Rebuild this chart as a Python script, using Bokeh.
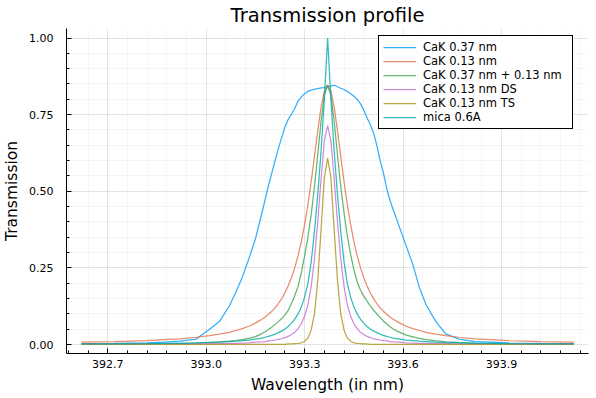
from bokeh.plotting import figure
from bokeh.models import (FixedTicker, NumeralTickFormatter, Legend, LegendItem, Range1d)
from bokeh.embed import file_html
from bokeh.resources import INLINE

# ---------------- data ----------------
wavelength = [392.62, 392.72, 392.82, 392.87, 392.92, 392.97, 393.01, 393.04, 393.07, 393.09,
              393.11, 393.13, 393.15, 393.17, 393.18, 393.19, 393.20, 393.21, 393.22, 393.23,
              393.24, 393.25, 393.26, 393.27, 393.28, 393.29, 393.30, 393.31, 393.32, 393.33,
              393.34, 393.35, 393.36,
              393.37,
              393.38, 393.39, 393.40, 393.41, 393.42, 393.43, 393.44, 393.45, 393.46, 393.47,
              393.48, 393.49, 393.50, 393.51, 393.52, 393.53, 393.54, 393.55, 393.56, 393.57,
              393.59, 393.61, 393.63, 393.65, 393.67, 393.70, 393.73, 393.77, 393.82, 393.87,
              393.92, 394.02, 394.12]

cak_037 = [0.003, 0.004, 0.006, 0.008, 0.011, 0.018, 0.050, 0.075, 0.125, 0.170,
           0.220, 0.280, 0.345, 0.430, 0.475, 0.520, 0.560, 0.600, 0.640, 0.675,
           0.710, 0.735, 0.752, 0.770, 0.795, 0.808, 0.818, 0.826, 0.830, 0.833,
           0.835, 0.837, 0.838,
           0.842,
           0.843, 0.846, 0.841, 0.836, 0.832, 0.826, 0.818, 0.810, 0.800, 0.786,
           0.765, 0.740, 0.718, 0.690, 0.650, 0.600, 0.560, 0.510, 0.470, 0.440,
           0.380, 0.320, 0.260, 0.185, 0.130, 0.075, 0.035, 0.018, 0.010, 0.008,
           0.006, 0.004, 0.003]

cak_013 = [0.008, 0.010, 0.013, 0.016, 0.019, 0.024, 0.029, 0.034, 0.040, 0.046,
           0.052, 0.060, 0.070, 0.083, 0.090, 0.099, 0.109, 0.120, 0.134, 0.150,
           0.169, 0.192, 0.219, 0.251, 0.290, 0.337, 0.392, 0.457, 0.532, 0.614,
           0.698, 0.774, 0.827,
           0.847,
           0.827, 0.774, 0.698, 0.614, 0.532, 0.457, 0.392, 0.337, 0.290, 0.251,
           0.219, 0.192, 0.169, 0.150, 0.134, 0.120, 0.109, 0.099, 0.090, 0.083,
           0.070, 0.060, 0.052, 0.046, 0.040, 0.034, 0.029, 0.024, 0.019, 0.016,
           0.013, 0.010, 0.008]

cak_037_013 = [0.002, 0.002, 0.003, 0.003, 0.004, 0.005, 0.007, 0.009, 0.011, 0.013,
               0.016, 0.020, 0.026, 0.036, 0.042, 0.049, 0.057, 0.066, 0.075, 0.085,
               0.097, 0.112, 0.135, 0.160, 0.190, 0.235, 0.290, 0.350, 0.425, 0.515,
               0.620, 0.728, 0.813,
               0.845,
               0.813, 0.728, 0.620, 0.515, 0.430, 0.355, 0.295, 0.245, 0.205, 0.178,
               0.158, 0.142, 0.126, 0.112, 0.100, 0.089, 0.077, 0.067, 0.058, 0.051,
               0.040, 0.031, 0.025, 0.020, 0.016, 0.012, 0.009, 0.007, 0.005, 0.004,
               0.003, 0.002, 0.002]

cak_013_ds = [0.002, 0.002, 0.002, 0.002, 0.002, 0.002, 0.003, 0.003, 0.004, 0.004,
              0.005, 0.006, 0.008, 0.009, 0.010, 0.012, 0.013, 0.015, 0.017, 0.019,
              0.023, 0.027, 0.033, 0.040, 0.052, 0.068, 0.093, 0.130, 0.190, 0.280,
              0.400, 0.540, 0.665,
              0.714,
              0.665, 0.540, 0.400, 0.280, 0.190, 0.130, 0.093, 0.068, 0.052, 0.040,
              0.033, 0.027, 0.023, 0.019, 0.017, 0.015, 0.013, 0.012, 0.010, 0.009,
              0.008, 0.006, 0.005, 0.004, 0.004, 0.003, 0.003, 0.002, 0.002, 0.002,
              0.002, 0.002, 0.002]

cak_013_ts = [0.001, 0.001, 0.001, 0.001, 0.001, 0.001, 0.001, 0.001, 0.001, 0.001,
              0.001, 0.001, 0.001, 0.001, 0.001, 0.001, 0.001, 0.001, 0.001, 0.001,
              0.001, 0.002, 0.002, 0.003, 0.004, 0.006, 0.011, 0.022, 0.048, 0.100,
              0.210, 0.375, 0.545,
              0.608,
              0.545, 0.375, 0.210, 0.100, 0.048, 0.022, 0.011, 0.006, 0.004, 0.003,
              0.002, 0.002, 0.001, 0.001, 0.001, 0.001, 0.001, 0.001, 0.001, 0.001,
              0.001, 0.001, 0.001, 0.001, 0.001, 0.001, 0.001, 0.001, 0.001, 0.001,
              0.001, 0.001, 0.001]

mica_06 = [0.002, 0.002, 0.003, 0.004, 0.004, 0.006, 0.007, 0.008, 0.010, 0.011,
           0.013, 0.015, 0.018, 0.021, 0.024, 0.027, 0.030, 0.034, 0.039, 0.044,
           0.051, 0.059, 0.070, 0.083, 0.100, 0.123, 0.155, 0.200, 0.270, 0.370,
           0.490, 0.630, 0.800,
           1.000,
           0.800, 0.630, 0.490, 0.370, 0.270, 0.200, 0.155, 0.123, 0.100, 0.083,
           0.070, 0.059, 0.051, 0.044, 0.039, 0.034, 0.030, 0.027, 0.024, 0.021,
           0.018, 0.015, 0.013, 0.011, 0.010, 0.008, 0.007, 0.006, 0.004, 0.004,
           0.003, 0.002, 0.002]

series_names = ["CaK 0.37 nm", "CaK 0.13 nm", "CaK 0.37 nm + 0.13 nm",
                "CaK 0.13 nm DS", "CaK 0.13 nm TS", "mica 0.6A"]
series_values = [cak_037, cak_013, cak_037_013, cak_013_ds, cak_013_ts, mica_06]
series_colors = ["#009afa", "#e26f46", "#3da44d", "#c271d2", "#ac8e18", "#00a9ad"]

x_ticks = [392.7, 393.0, 393.3, 393.6, 393.9]
y_ticks = [0.0, 0.25, 0.5, 0.75, 1.0]

# minor tick positions (5 sub-intervals per major interval)
x_minor = [round(392.4 + 0.06 * i, 3) for i in range(35)]
y_minor = [round(-0.25 + 0.05 * i, 3) for i in range(30)]

FONT = "DejaVu Sans"

p = figure(width=596, height=398,
           x_range=Range1d(392.5743, 394.165), y_range=Range1d(-0.029, 1.031),
           output_backend="svg", toolbar_location=None,
           min_border_left=62, min_border_right=8, min_border_top=28, min_border_bottom=45,
           title="Transmission profile")

p.title.align = "center"
p.title.vertical_align = "top"
p.title.text_font = FONT
p.title.text_font_size = "19.5px"
p.title.text_font_style = "normal"
p.title.text_color = "black"
p.title.text_line_height = 0.8
p.title.standoff = 0

p.outline_line_color = None
p.background_fill_color = "white"
p.border_fill_color = "white"

for ax in (p.xaxis[0], p.yaxis[0]):
    ax.axis_line_color = "black"
    ax.axis_line_width = 1
    ax.major_tick_in = 5
    ax.major_tick_out = 0
    ax.minor_tick_in = 3
    ax.minor_tick_out = 0
    ax.major_tick_line_color = "black"
    ax.minor_tick_line_color = "black"
    ax.major_label_text_font = FONT
    ax.major_label_text_font_size = "11px"
    ax.major_label_text_color = "black"
    ax.axis_label_text_font = FONT
    ax.axis_label_text_font_size = "15.5px"
    ax.axis_label_text_font_style = "normal"
    ax.axis_label_text_color = "black"

p.xaxis.ticker = FixedTicker(ticks=x_ticks, minor_ticks=x_minor)
p.yaxis.ticker = FixedTicker(ticks=y_ticks, minor_ticks=y_minor)
p.xaxis.formatter = NumeralTickFormatter(format="0.0")
p.yaxis.formatter = NumeralTickFormatter(format="0.00")
p.xaxis.axis_label = "Wavelength (in nm)"
p.yaxis.axis_label = "Transmission"
p.xaxis.major_label_standoff = 6
p.xaxis.axis_label_standoff = 5
p.yaxis.major_label_standoff = 13
p.yaxis.axis_label_standoff = 5

for g in (p.xgrid[0], p.ygrid[0]):
    g.grid_line_color = "black"
    g.grid_line_alpha = 0.07
    g.minor_grid_line_color = "black"
    g.minor_grid_line_alpha = 0.035

items = []
for name, vals, col in zip(series_names, series_values, series_colors):
    r = p.line(wavelength, vals, line_color=col, line_width=1.25, line_alpha=0.8)
    items.append(LegendItem(label=name, renderers=[r]))

legend = Legend(items=items, location=(312, 224))
legend.border_line_color = "black"
legend.border_line_width = 1
legend.border_line_alpha = 1
legend.background_fill_color = "white"
legend.background_fill_alpha = 1
legend.label_text_font = FONT
legend.label_text_font_size = "11.5px"
legend.label_text_color = "black"
legend.glyph_width = 33
legend.glyph_height = 12
legend.label_height = 12
legend.label_width = 145
legend.label_standoff = 7
legend.spacing = 0
legend.padding = 4
legend.margin = 0
p.add_layout(legend)

open("out.html", "w").write(file_html(p, INLINE))
